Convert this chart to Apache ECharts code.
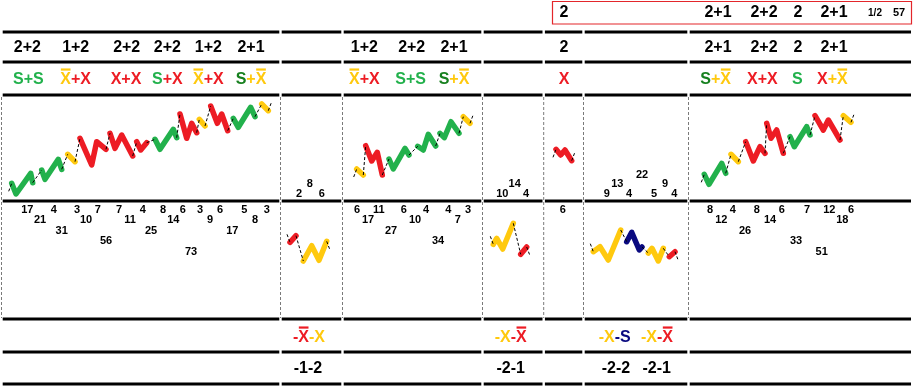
<!DOCTYPE html>
<html><head><meta charset="utf-8">
<script src="https://cdn.jsdelivr.net/npm/echarts@6/dist/echarts.min.js"></script>
<style>html,body{margin:0;padding:0;background:#fff}#c{width:919px;height:389px}</style>
</head><body><div id="c"></div>
<script>
// ================= DATA =================
// Up-trend panels: colored pattern legs [colorKey, points[x, y]] (y measured downward)
const upPanel1 = [
  ['G', [[11.7,183.3],[16,194],[30.7,173.3],[32.7,182.7]]],
  ['G', [[41.7,170],[45,179.3],[58.3,159.3],[61.7,169.3]]],
  ['Y', [[67.7,154.3],[75,161.7]]],
  ['R', [[80,138.3],[91.7,165],[96.7,141.7],[106,149.3]]],
  ['R', [[110,133.3],[115,148.3],[121.7,135],[132.7,156]]],
  ['R', [[136.7,141.7],[140.7,150],[146.7,142.7]]],
  ['G', [[155,139.3],[160,149.3],[173.3,129.3],[176.7,137.7]]],
  ['R', [[180,114],[186.7,138.3],[191.7,123.3],[196.7,132.7]]],
  ['Y', [[199.3,119.3],[205,126]]],
  ['R', [[210.7,106],[217.3,123.3],[221.7,114],[227.7,130.7]]],
  ['G', [[233.3,118.3],[238.3,127.3],[250.7,107.3],[255,116.7]]],
  ['Y', [[261.7,104],[268.3,110.7]]]
];
const upPanel3 = [
  ['Y', [[356.7,169],[363.3,175]]],
  ['R', [[365.7,145.7],[371.7,161],[377.3,152.3],[382.3,175]]],
  ['G', [[389,159],[393.3,169],[405,148.3],[409,155]]],
  ['G', [[417.7,146.3],[423.3,150],[428.3,134.3],[435.7,146]]],
  ['G', [[440,133.3],[444.3,137.7],[451,121.7],[459,133.3]]],
  ['Y', [[463.3,116.7],[470,123.3]]]
];
const upPanel5 = [
  ['R', [[556,149.3],[560.7,155],[565,150],[571.7,160.7]]]
];
const upPanel7 = [
  ['G', [[704.3,174.3],[709,184.3],[721.7,163.3],[725.7,173.3]]],
  ['Y', [[731,154.3],[738.3,161.7]]],
  ['R', [[745.7,141.7],[753.3,161],[760,146.7],[765,153.3]]],
  ['R', [[766.7,123.3],[771,138.3],[776.7,130],[783.3,153.3]]],
  ['G', [[790,136.7],[794.3,146.7],[806.7,126.7],[810,135]]],
  ['R', [[815,115.7],[823.3,130],[828.3,120],[840,140]]],
  ['Y', [[843.3,115.7],[851,122.3]]]
];
// Down-trend panels
const downPanel2 = [
  ['R', [[290,242.3],[296,235.7]]],
  ['Y', [[303.3,261],[311.7,245.7],[319,260.3],[326.7,241.3]]]
];
const downPanel4 = [
  ['Y', [[493.3,244.3],[496.7,238.3],[502.7,249],[513.3,223.3]]],
  ['R', [[520.7,254.3],[526.7,247]]]
];
const downPanel6 = [
  ['Y', [[593.3,251.7],[600,246.7],[608.3,260],[620.7,230]]],
  ['N', [[626.7,241.7],[631.7,232.3],[639.3,250],[642,247]]],
  ['Y', [[648.3,253],[652,248.3],[658.3,261],[663.3,248.3]]],
  ['R', [[669.3,256.7],[675,251.7]]]
];

// Header texts
const boxLabels = ['2','2+1','2+2','2','2+1'];
const boxSmall = ['1/2','57'];
const row1Labels = ['2+2','1+2','2+2','2+2','1+2','2+1','1+2','2+2','2+1','2','2+1','2+2','2','2+1'];
const row2Patterns = [
  [['S+S','g']], [['X\u0304','y'],['+X','r']], [['X+X','r']], [['S','g'],['+X','r']],
  [['X\u0304','y'],['+X','r']], [['S','dg'],['+X\u0304','y']],
  [['X\u0304','y'],['+X','r']], [['S+S','g']], [['S','dg'],['+X\u0304','y']],
  [['X','r']],
  [['S','dg'],['+X\u0304','y']], [['X+X','r']], [['S','g']], [['X','r'],['+X\u0304','y']]
];
const bottomPatterns = [
  [['-X\u0304','r'],['-X','y']], [['-X','y'],['-X\u0304','r']],
  [['-X','y'],['-S','n']], [['-X','y'],['-X\u0304','r']]
];
const bottomCounts = ['-1-2','-2-1','-2-2','-2-1'];

// Count trees
const treeBelowValues = [17,21,4,31,3,10,7,56,7,11,4,25,8,14,6,73,3,9,6,17,5,8,3,
  6,17,11,27,6,10,4,34,4,7,3,
  6,
  8,12,4,26,8,14,6,33,7,51,12,18,6];
const treeBelowLevels = [0,1,0,2,0,1,0,3,0,1,0,2,0,1,0,4,0,1,0,2,0,1,0,
  0,1,0,2,0,1,0,3,0,1,0,
  0,
  0,1,0,2,0,1,0,3,0,4,0,1,0];
const treeAboveValues = [2,8,6, 10,14,4, 9,13,4,22,5,9,4];
const treeAboveLevels = [0,1,0, 0,1,0, 0,1,0,2,0,1,0];

// ================= LAYOUT =================
const treeBelowX = [27.3,40,53.7,61.7,77,86,97.7,106,119,130,142.7,151,163,173.3,182.7,191,200,210,220,232.3,244.3,255,266.7,
  357,368,378.7,391,403.7,415,426,438,448.3,457.7,468,
  562.7,
  710,721.3,732.7,745,756.7,770,781.7,796,807,821.7,829.3,842.3,851];
const treeAboveX = [299,309.7,321.7, 502.3,514.7,526, 606.7,617.3,629,642,654,665,674.3];
const boxX = [564,718,764,798,834], boxSmallX = [875,899];
const row1X = [27.3,75.7,126.7,167.3,208.3,251,364.3,411.7,454,564,718,764,798,834];
const row2X = [28.3,75.7,126,167.3,208.3,251,364.3,410.7,454,564,715.7,762.3,797.3,832.3];
const bottomPX = [309,510.7,614.7,657], bottomCX = [308,510.7,616,656.7];
const hLinesY = [32,62,95,201,319,352,384];
const colEdges = [1.5,280.5,342.5,482.5,543.7,583.5,688.5,911];

const COL = {G:'#22b14c', R:'#ed1c24', Y:'#ffc90e', N:'#0a0a80',
  g:'#22b14c', dg:'#17801f', r:'#ed1c24', y:'#ffc90e', n:'#0a0a80'};
const FONT = '"Liberation Sans", Arial, sans-serif';

// ================= BUILD =================
const series = [];
function lineSeries(data, style, z) {
  series.push({type:'line', data, symbol:'none', silent:true, animation:false, z,
    lineStyle:style});
}
function addPanel(segs, dir) {
  const link = {color:'#000', width:1, type:[3,2]};
  segs.forEach(([c, pts], i) => {
    lineSeries(pts, {color:COL[c], width:5.5, cap:'round', join:'round'}, 3);
    if (i === 0) {
      lineSeries([[pts[0][0]-3, pts[0][1]-dir*8], pts[0]], link, 4);
    } else {
      const prev = segs[i-1][1];
      lineSeries([prev[prev.length-1], pts[0]], link, 4);
    }
    if (i === segs.length-1) {
      const e = pts[pts.length-1];
      lineSeries([e, [e[0]+3, e[1]+dir*8]], link, 4);
    }
  });
}
[upPanel1, upPanel3, upPanel5, upPanel7].forEach(p => addPanel(p, -1));
[downPanel2, downPanel4, downPanel6].forEach(p => addPanel(p, 1));

const graphic = [];
// table rules
hLinesY.forEach(y => {
  for (let i = 0; i < colEdges.length-1; i++) {
    graphic.push({type:'line', silent:true, z:1,
      shape:{x1:colEdges[i]+1.2, y1:y, x2:colEdges[i+1]-(i===colEdges.length-2?0:1.2), y2:y},
      style:{stroke:'#000', lineWidth:3}});
  }
});
colEdges.slice(0, -1).forEach(x => {
  graphic.push({type:'line', silent:true, z:1,
    shape:{x1:x, y1:97, x2:x, y2:318}, style:{stroke:'#7a7a7a', lineWidth:1, lineDash:[3,2]}});
});
// red box
graphic.push({type:'rect', silent:true, shape:{x:552.5, y:1.5, width:359, height:22.5},
  style:{fill:'none', stroke:'#e3262b', lineWidth:1.2}});

const mctx = document.createElement('canvas').getContext('2d');
function txt(x, y, text, size, fill) {
  graphic.push({type:'text', silent:true, z:5, x, y,
    style:{text, fill:fill||'#000', font:'bold '+size+'px '+FONT, align:'center', verticalAlign:'middle'}});
}
function richTxt(x, y, pieces, size) {
  const font = 'bold '+size+'px '+FONT;
  mctx.font = font;
  const clean = pieces.map(([t]) => t.replace(/\u0304/g, ''));
  const total = clean.reduce((s, t) => s + mctx.measureText(t).width, 0);
  let cx = x - total/2;
  const rich = {};
  let s = '';
  pieces.forEach(([t, c], i) => {
    rich['p'+i] = {fill:COL[c], fontSize:size, fontWeight:'bold', fontFamily:FONT};
    s += '{p'+i+'|'+clean[i]+'}';
    // overline bars for barred letters
    let k = 0;
    for (let j = 0; j < t.length; j++) {
      if (t[j] === '\u0304') continue;
      if (t[j+1] === '\u0304') {
        const pre = mctx.measureText(clean[i].slice(0, k)).width;
        const w = mctx.measureText(clean[i][k]).width;
        graphic.push({type:'rect', silent:true, z:5,
          shape:{x:cx+pre+0.5, y:y-0.66*size, width:w-1, height:2.2},
          style:{fill:COL[c]}});
      }
      k++;
    }
    cx += mctx.measureText(clean[i]).width;
  });
  graphic.push({type:'text', silent:true, z:5, x, y:y+1,
    style:{text:s, rich, align:'center', verticalAlign:'middle', font}});
}
boxLabels.forEach((t, i) => txt(boxX[i], 13, t, 16));
boxSmall.forEach((t, i) => txt(boxSmallX[i], 13, t, i === 0 ? 10 : 11));
row1Labels.forEach((t, i) => txt(row1X[i], 48, t, 16));
row2Patterns.forEach((p, i) => richTxt(row2X[i], 79, p, 16));
bottomPatterns.forEach((p, i) => richTxt(bottomPX[i], 337, p, 16));
bottomCounts.forEach((t, i) => txt(bottomCX[i], 368.5, t, 16));
treeBelowValues.forEach((v, i) => txt(treeBelowX[i], 209.5 + 10.6*treeBelowLevels[i], String(v), 11));
treeAboveValues.forEach((v, i) => txt(treeAboveX[i], 194 - 9.6*treeAboveLevels[i], String(v), 11));

const chart = echarts.init(document.getElementById('c'), null, {renderer:'canvas'});
chart.setOption({
  animation:false,
  backgroundColor:'#fff',
  grid:{left:0, right:0, top:0, bottom:0, containLabel:false},
  xAxis:{type:'value', min:0, max:919, show:false},
  yAxis:{type:'value', min:0, max:389, inverse:true, show:false},
  series,
  graphic
});
</script></body></html>
